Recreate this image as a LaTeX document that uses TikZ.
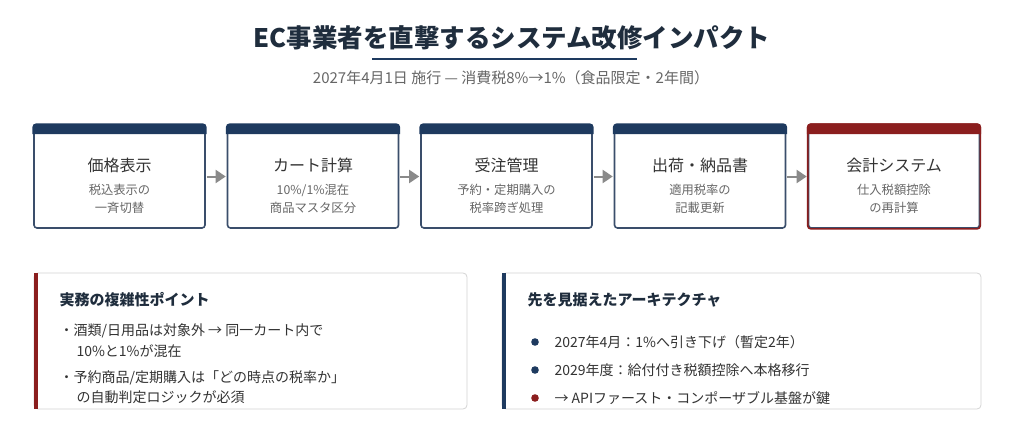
\documentclass[tikz,border=0pt]{standalone}
\usepackage{fontspec}
\setmainfont{Noto Sans CJK JP}
\usetikzlibrary{arrows.meta}

\definecolor{navy}{HTML}{1E3A5F}
\definecolor{darkred}{HTML}{8B1E1E}
\definecolor{boxline}{HTML}{3A4E6B}
\definecolor{titletxt}{HTML}{1F2D3D}
\definecolor{bodytxt}{HTML}{333333}
\definecolor{subtxt}{HTML}{666666}
\definecolor{arrowgray}{HTML}{8A8A8A}
\definecolor{panelline}{HTML}{D4D4D4}

\begin{document}
\begin{tikzpicture}[x=1pt,y=-1pt,
	stagebox/.style={draw=boxline, line width=1.6pt, rounded corners=3pt, fill=white,
		minimum width=171pt, minimum height=103pt, inner sep=0pt},
	stagetitle/.style={font=\fontsize{16}{18}\selectfont, text=bodytxt},
	stagesub/.style={font=\fontsize{12.3}{18}\selectfont, text=subtxt, align=center},
	flowarrow/.style={draw=arrowgray, line width=2pt, -{Triangle[length=10pt,width=13pt]}, shorten <=1pt, shorten >=1pt},
	panel/.style={draw=panelline, line width=0.8pt, rounded corners=4pt, fill=white},
	paneltitle/.style={anchor=west, font=\fontsize{15}{18}\bfseries, text=titletxt},
	bullettxt/.style={anchor=west, font=\fontsize{14}{16}\selectfont, text=bodytxt}]
	% Parameters
	\def\boxy{176.5}
	\def\band{9}
	\def\panelt{273}
	\def\panelb{409}
	
	\useasboundingbox (0,0) rectangle (1024,436);
	\fill[white] (0,0) rectangle (1024,436);
	
	%heading
	\node[font=\fontsize{25.5}{30}\bfseries, text=titletxt] (title) at (512,38) {EC事業者を直撃するシステム改修インパクト};
	\draw[navy, line width=2pt] (372,59) -- (637,59);
	\node[font=\fontsize{15}{17}\selectfont, text=subtxt] (subtitle) at (511,78) {2027年4月1日 施行 — 消費税8\%→1\%（食品限定・2年間）};
	
	%stages
	\foreach \i/\x/\col/\ttl/\sub in {
		1/119.5/navy/価格表示/{税込表示の\\一斉切替},
		2/313/navy/カート計算/{10\%/1\%混在\\商品マスタ区分},
		3/506.5/navy/受注管理/{予約・定期購入の\\税率跨ぎ処理},
		4/700/navy/出荷・納品書/{適用税率の\\記載更新},
		5/894/darkred/会計システム/{仕入税額控除\\の再計算}} {
		\node[stagebox] (b\i) at (\x,\boxy) {};
		\filldraw[\col, line width=1.6pt] ([yshift=-\band pt]b\i.north west) [rounded corners=3pt] -- (b\i.north west) -- (b\i.north east) [sharp corners] -- ([yshift=-\band pt]b\i.north east) -- cycle;
		\node[stagetitle] (t\i) at (\x,165) {\ttl};
		\node[stagesub] (s\i) at (\x,199) {\sub};
	}
	\draw[darkred, line width=1.6pt, rounded corners=3pt] (b5.north west) rectangle (b5.south east);
	
	%flow
	\foreach \i/\j in {1/2,2/3,3/4,4/5}
		\draw[flowarrow] (b\i.east) -- (b\j.west);
	
	%panels
	\draw[panel] (34,\panelt) rectangle (467,\panelb);
	\fill[darkred] (34,\panelt) rectangle (38,\panelb);
	\draw[panel] (502,\panelt) rectangle (981,\panelb);
	\fill[navy] (502,\panelt) rectangle (505.5,\panelb);
	
	%left panel
	\node[paneltitle] (lh) at (56,300) {実務の複雑性ポイント};
	\node[bullettxt] (l1) at (56,331) {・酒類/日用品は対象外 → 同一カート内で};
	\node[bullettxt] (l2) at (73,351) {10\%と1\%が混在};
	\node[bullettxt] (l3) at (56,378) {・予約商品/定期購入は「どの時点の税率か」};
	\node[bullettxt] (l4) at (73,397) {の自動判定ロジックが必須};
	
	%right panel
	\node[paneltitle] (rh) at (524,300) {先を見据えたアーキテクチャ};
	\foreach \k/\y/\col/\txt in {
		1/342/navy/{2027年4月：1\%へ引き下げ（暫定2年）},
		2/370/navy/{2029年度：給付付き税額控除へ本格移行},
		3/398/darkred/{→ APIファースト・コンポーザブル基盤が鍵}} {
		\fill[\col] (535,\y) circle (3.8);
		\node[bullettxt] (r\k) at (551,\y) {\txt};
	}
\end{tikzpicture}
\end{document}
